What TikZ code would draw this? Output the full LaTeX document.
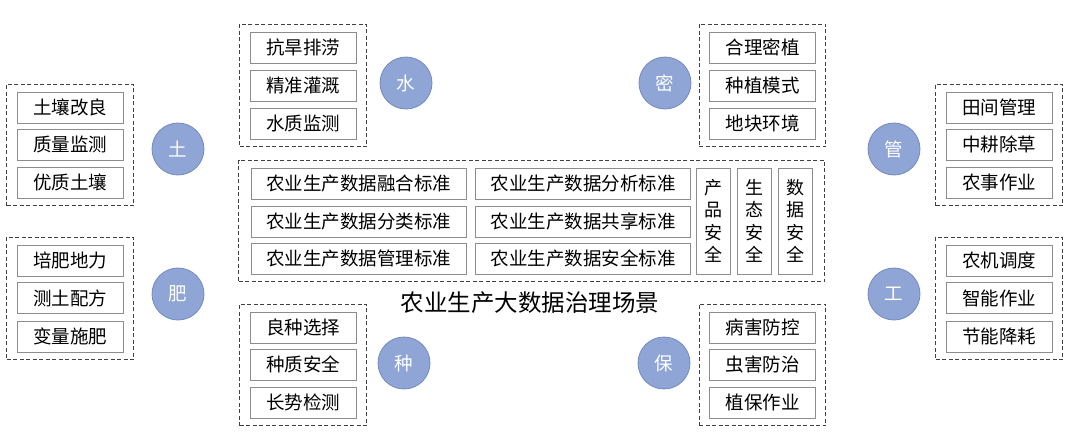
\documentclass[tikz,border=0pt]{standalone}
\usepackage{fontspec}
\newfontfamily\cjkfont{Noto Sans CJK SC}
\usetikzlibrary{
    fit,
    backgrounds
}
\definecolor{discblue}{RGB}{143,165,214}
\definecolor{discedge}{RGB}{115,137,192}

\begin{document}
\begin{tikzpicture}[
        x=1pt, y=-1pt,
        every node/.style={
            font=\cjkfont\fontsize{18.5pt}{21pt}\selectfont,
            text=black
        },
        group/.style={
            rectangle,
            draw=black!75,
            line width=1pt,
            dash pattern=on 4pt off 2.5pt,
            inner xsep=10pt,
            inner ysep=7.5pt
        },
        item/.style={
            rectangle,
            draw=black!45,
            line width=0.9pt,
            fill=white,
            minimum width=106pt,
            minimum height=31pt,
            inner sep=0pt
        },
        standard/.style={
            item,
            minimum width=215pt
        },
        safety/.style={
            item,
            minimum width=34pt,
            minimum height=106pt,
            align=center,
            font=\cjkfont\fontsize{18pt}{22.5pt}\selectfont
        },
        disc/.style={
            circle,
            fill=discblue,
            draw=discedge,
            line width=0.8pt,
            minimum size=52pt,
            inner sep=0pt,
            text=white
        },
        title/.style={
            font=\cjkfont\fontsize{23.5pt}{27pt}\selectfont
        }
    ]

    \useasboundingbox (0,0) rectangle (1080,440);

    % soil
    \node[item] (soil1) at (70,107.5) {土壤改良};
    \node[item] (soil2) at (70,144.5) {质量监测};
    \node[item] (soil3) at (70,182.5) {优质土壤};
    \node[disc] (soil) at (178,149) {土};

    % fertiliser
    \node[item] (fert1) at (70,260.5) {培肥地力};
    \node[item] (fert2) at (70,298) {测土配方};
    \node[item] (fert3) at (70,336.5) {变量施肥};
    \node[disc] (fert) at (178,294) {肥};

    % water
    \node[item] (water1) at (303,47.5) {抗旱排涝};
    \node[item] (water2) at (303,85.5) {精准灌溉};
    \node[item] (water3) at (303,123.5) {水质监测};
    \node[disc] (water) at (406,83) {水};

    % density
    \node[item] (dense1) at (762.5,47.5) {合理密植};
    \node[item] (dense2) at (762.5,85.5) {种植模式};
    \node[item] (dense3) at (762.5,123.5) {地块环境};
    \node[disc] (dense) at (665,83) {密};

    % field management
    \node[item] (manage1) at (999,107.5) {田间管理};
    \node[item] (manage2) at (999,144.5) {中耕除草};
    \node[item] (manage3) at (999,182.5) {农事作业};
    \node[disc] (manage) at (894,149) {管};

    % machinery
    \node[item] (machine1) at (999,260.5) {农机调度};
    \node[item] (machine2) at (999,298) {智能作业};
    \node[item] (machine3) at (999,336.5) {节能降耗};
    \node[disc] (machine) at (894,294) {工};

    % seed
    \node[item] (seed1) at (303,327.5) {良种选择};
    \node[item] (seed2) at (303,364.5) {种质安全};
    \node[item] (seed3) at (303,402.5) {长势检测};
    \node[disc] (seed) at (404,363) {种};

    % protection
    \node[item] (protect1) at (762.5,327.5) {病害防控};
    \node[item] (protect2) at (762.5,364.5) {虫害防治};
    \node[item] (protect3) at (762.5,402.5) {植保作业};
    \node[disc] (protect) at (664,363) {保};

    % standards
    \node[standard] (fusion) at (358.5,183.5) {农业生产数据融合标准};
    \node[standard] (classify) at (358.5,221.5) {农业生产数据分类标准};
    \node[standard] (govern) at (358.5,258.5) {农业生产数据管理标准};
    \node[standard] (analyse) at (583,183.5) {农业生产数据分析标准};
    \node[standard] (share) at (583,221.5) {农业生产数据共享标准};
    \node[standard] (secure) at (583,258.5) {农业生产数据安全标准};
    \node[safety] (product) at (713,221) {产\\品\\安\\全};
    \node[safety] (ecology) at (754.5,221) {生\\态\\安\\全};
    \node[safety] (datasafe) at (795,221) {数\\据\\安\\全};

    \node[title] (scene) at (530,303) {农业生产大数据治理场景};

    \begin{scope}[on background layer]
        \node[group, fit=(soil1)(soil3)] (soilbox) {};
        \node[group, fit=(fert1)(fert3)] (fertbox) {};
        \node[group, fit=(water1)(water3)] (waterbox) {};
        \node[group, fit=(dense1)(dense3)] (densebox) {};
        \node[group, fit=(manage1)(manage3)] (managebox) {};
        \node[group, fit=(machine1)(machine3)] (machinebox) {};
        \node[group, fit=(seed1)(seed3)] (seedbox) {};
        \node[group, fit=(protect1)(protect3)] (protectbox) {};
        \node[group, inner xsep=12pt, fit=(fusion)(secure)(datasafe)] (standardbox) {};
    \end{scope}

\end{tikzpicture}
\end{document}
